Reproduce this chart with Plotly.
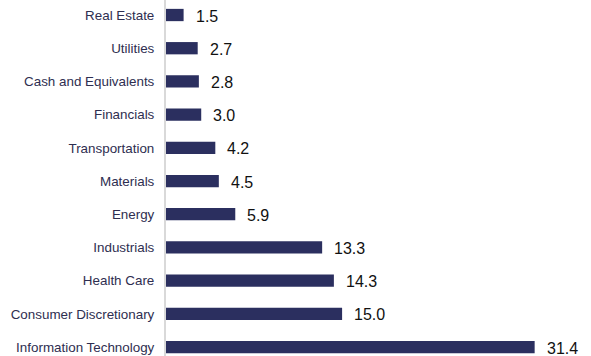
import plotly.graph_objects as go

categories = ["Real Estate", "Utilities", "Cash and Equivalents", "Financials",
              "Transportation", "Materials", "Energy", "Industrials",
              "Health Care", "Consumer Discretionary", "Information Technology"]
values = [1.5, 2.7, 2.8, 3.0, 4.2, 4.5, 5.9, 13.3, 14.3, 15.0, 31.4]
value_labels = [f"{v:.1f}" for v in values]

fig = go.Figure()
fig.add_trace(go.Bar(
    x=values, y=categories, orientation="h",
    marker=dict(color="#2b2f5f", line=dict(width=0)),
    width=0.37,
    hoverinfo="skip",
))

for c, v, t in zip(categories, values, value_labels):
    fig.add_annotation(x=v, y=c, text=t, showarrow=False, xanchor="left",
                       xshift=10, yshift=-1,
                       font=dict(family="Liberation Sans, Arial", size=16, color="#111111"))

fig.update_layout(
    width=591, height=356,
    margin=dict(l=166, r=0, t=0, b=0),
    paper_bgcolor="white", plot_bgcolor="white",
    showlegend=False,
    xaxis=dict(range=[0, 36.2], visible=False, fixedrange=True),
    yaxis=dict(
        categoryorder="array", categoryarray=categories,
        range=[10.27, -0.452],
        showgrid=False, zeroline=False,
        showline=True, linecolor="#d9d9d9", linewidth=2,
        ticks="outside", ticklen=7, tickcolor="rgba(0,0,0,0)",
        tickfont=dict(family="Liberation Sans, Arial", size=13.4, color="#2e2e50"),
    ),
)

fig.write_html("out.html")
